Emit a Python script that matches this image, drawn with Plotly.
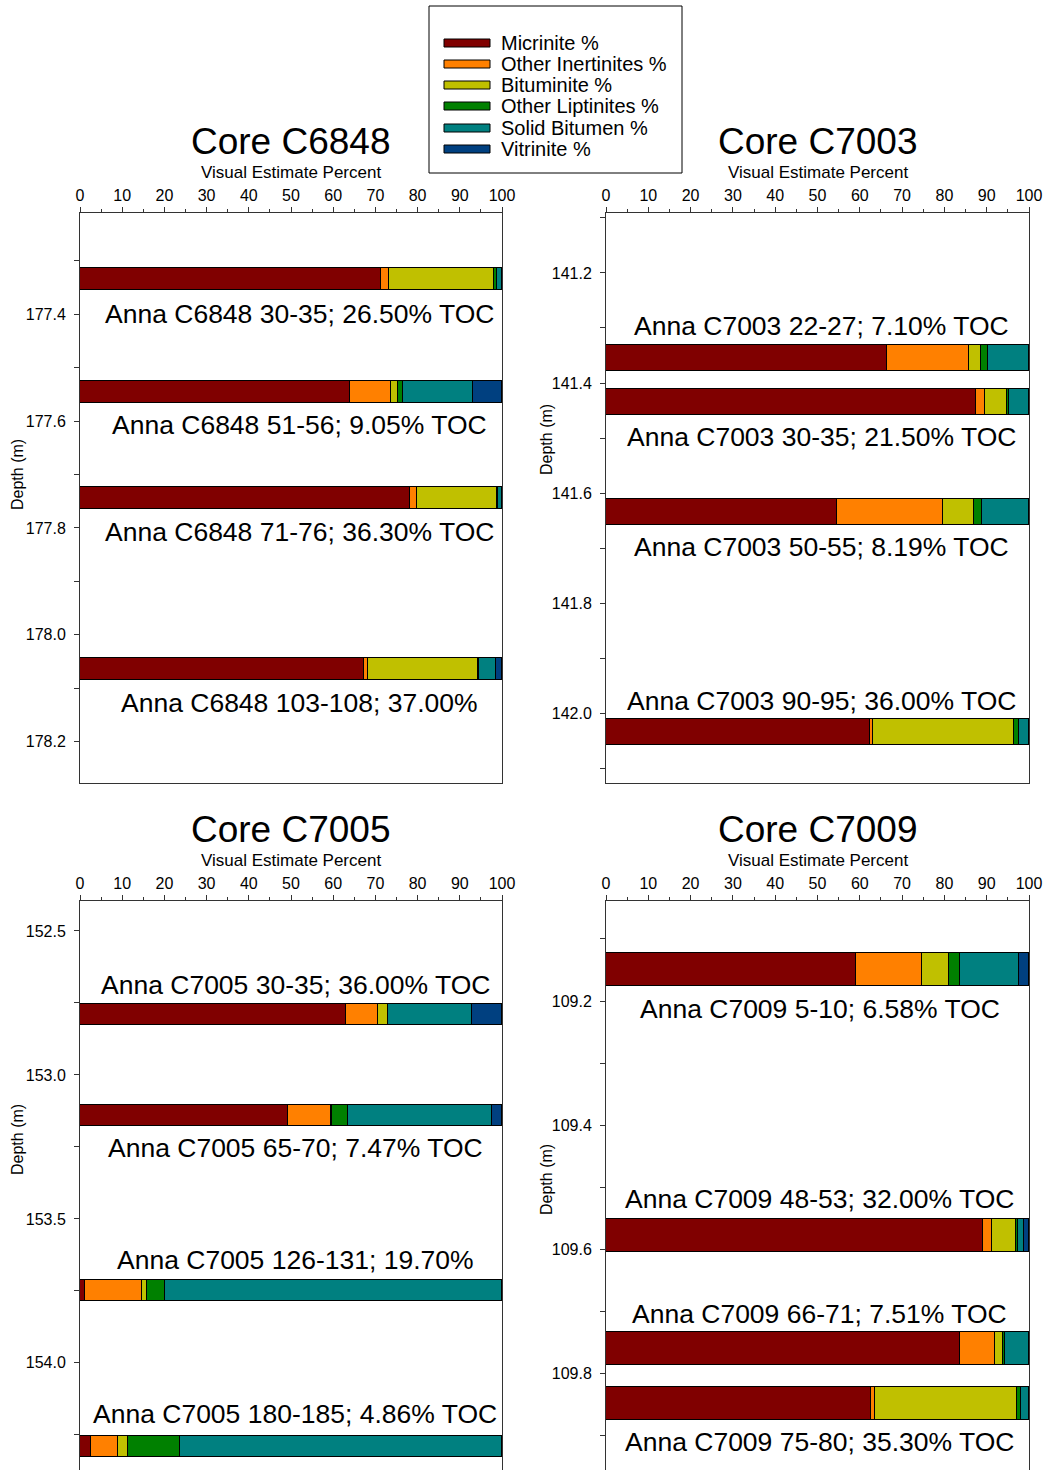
import plotly.graph_objects as go

W, H = 1047, 1470
FONT = "Liberation Sans, Arial, sans-serif"

# Maceral groups, in stacking order, with their fill colours
COMPONENTS = ["Micrinite %", "Other Inertinites %", "Bituminite %",
              "Other Liptinites %", "Solid Bitumen %", "Vitrinite %"]
COLORS = ["#800000", "#FF8000", "#C0C000", "#008000", "#008080", "#004080"]

# ---- Core C6848 ----
C6848_DEPTH = [177.335, 177.546, 177.744, 178.064]
C6848_SAMPLE = ["30-35", "51-56", "71-76", "103-108"]
C6848_TOC = ["26.50% TOC", "9.05% TOC", "36.30% TOC", "37.00%"]
C6848_MICRINITE = [71.4, 64.0, 78.3, 67.4]
C6848_OTHER_INERT = [1.8, 9.8, 1.5, 0.9]
C6848_BITUMINITE = [24.9, 1.6, 18.9, 25.9]
C6848_OTHER_LIPT = [0.7, 1.1, 0.4, 0.4]
C6848_SOLID_BIT = [1.2, 16.7, 0.9, 4.0]
C6848_VITRINITE = [0.0, 6.8, 0.0, 1.4]

# ---- Core C7003 ----
C7003_DEPTH = [141.355, 141.435, 141.634, 142.034]
C7003_SAMPLE = ["22-27", "30-35", "50-55", "90-95"]
C7003_TOC = ["7.10% TOC", "21.50% TOC", "8.19% TOC", "36.00% TOC"]
C7003_MICRINITE = [66.4, 87.4, 54.5, 62.3]
C7003_OTHER_INERT = [19.5, 2.1, 25.1, 0.8]
C7003_BITUMINITE = [2.8, 5.4, 7.3, 33.3]
C7003_OTHER_LIPT = [1.6, 0.4, 2.1, 1.2]
C7003_SOLID_BIT = [9.7, 4.7, 11.0, 2.4]
C7003_VITRINITE = [0.0, 0.0, 0.0, 0.0]

# ---- Core C7005 ----
C7005_DEPTH = [152.79, 153.141, 153.75, 154.292]
C7005_SAMPLE = ["30-35", "65-70", "126-131", "180-185"]
C7005_TOC = ["36.00% TOC", "7.47% TOC", "19.70%", "4.86% TOC"]
C7005_MICRINITE = [63.0, 49.2, 1.3, 2.6]
C7005_OTHER_INERT = [7.6, 10.2, 13.4, 6.4]
C7005_BITUMINITE = [2.5, 0.3, 1.2, 2.3]
C7005_OTHER_LIPT = [0.0, 3.8, 4.3, 12.4]
C7005_SOLID_BIT = [19.8, 34.1, 79.8, 76.3]
C7005_VITRINITE = [7.1, 2.4, 0.0, 0.0]

# ---- Core C7009 ----
C7009_DEPTH = [109.149, 109.578, 109.759, 109.848]
C7009_SAMPLE = ["5-10", "48-53", "66-71", "75-80"]
C7009_TOC = ["6.58% TOC", "32.00% TOC", "7.51% TOC", "35.30% TOC"]
C7009_MICRINITE = [59.0, 89.1, 83.7, 62.6]
C7009_OTHER_INERT = [15.8, 2.2, 8.3, 1.0]
C7009_BITUMINITE = [6.3, 5.6, 1.9, 33.6]
C7009_OTHER_LIPT = [2.6, 0.5, 0.4, 0.9]
C7009_SOLID_BIT = [14.0, 1.4, 5.7, 1.9]
C7009_VITRINITE = [2.3, 1.2, 0.0, 0.0]

X_TICKS = [0, 10, 20, 30, 40, 50, 60, 70, 80, 90, 100]


def px_x(x):
    return x / W


def px_y(y):
    return 1 - y / H


# panel layout: pixel box (left, top, right, bottom), depth range, tick step,
# bar thickness (m), label offsets in px (positive = below bar),
# depth-title position, label centre on the percent axis
cores = [
    dict(name="C6848", depth=C6848_DEPTH, sample=C6848_SAMPLE, toc=C6848_TOC,
         values=[C6848_MICRINITE, C6848_OTHER_INERT, C6848_BITUMINITE,
                 C6848_OTHER_LIPT, C6848_SOLID_BIT, C6848_VITRINITE],
         box=(80, 213, 502, 783), yrange=(178.277, 177.211), dtick=0.2,
         bw=0.041, shift=[35, 33, 34, 34], ytitle=(17, 475), lx=52),
    dict(name="C7003", depth=C7003_DEPTH, sample=C7003_SAMPLE, toc=C7003_TOC,
         values=[C7003_MICRINITE, C7003_OTHER_INERT, C7003_BITUMINITE,
                 C7003_OTHER_LIPT, C7003_SOLID_BIT, C7003_VITRINITE],
         box=(606, 213, 1029, 783), yrange=(142.127, 141.091), dtick=0.2,
         bw=0.047, shift=[-32, 35, 35, -31], ytitle=(546, 440), lx=51),
    dict(name="C7005", depth=C7005_DEPTH, sample=C7005_SAMPLE, toc=C7005_TOC,
         values=[C7005_MICRINITE, C7005_OTHER_INERT, C7005_BITUMINITE,
                 C7005_OTHER_LIPT, C7005_SOLID_BIT, C7005_VITRINITE],
         box=(80, 901, 502, 1470), yrange=(154.372, 152.396), dtick=0.5,
         bw=0.073, shift=[-29, 32, -31, -33], ytitle=(17, 1140), lx=51),
    dict(name="C7009", depth=C7009_DEPTH, sample=C7009_SAMPLE, toc=C7009_TOC,
         values=[C7009_MICRINITE, C7009_OTHER_INERT, C7009_BITUMINITE,
                 C7009_OTHER_LIPT, C7009_SOLID_BIT, C7009_VITRINITE],
         box=(606, 901, 1029, 1470), yrange=(109.955, 109.039), dtick=0.2,
         bw=0.053, shift=[40, -37, -34, 38], ytitle=(546, 1180), lx=50.5),
]

fig = go.Figure()
annotations = []
shapes = []
layout_axes = {}

for i, core in enumerate(cores):
    n = "" if i == 0 else str(i + 1)
    xa, ya = "x" + n, "y" + n
    left, top, right, bottom = core["box"]

    for comp, color, vals in zip(COMPONENTS, COLORS, core["values"]):
        fig.add_trace(go.Bar(
            x=vals, y=core["depth"], orientation="h", xaxis=xa, yaxis=ya,
            width=core["bw"], name=comp, showlegend=False,
            marker=dict(color=color, line=dict(color="black", width=1)),
        ))

    axis_common = dict(showline=True, mirror=True, linecolor="#333333",
                       linewidth=1, showgrid=False, zeroline=False,
                       automargin=False,
                       ticks="outside", ticklen=5, tickcolor="#333333",
                       tickfont=dict(family=FONT, size=16, color="black"))
    layout_axes["xaxis" + n] = dict(
        axis_common, domain=[px_x(left), px_x(right)], anchor=ya,
        side="top", range=[0, 100], tickvals=X_TICKS,
        minor=dict(ticks="outside", ticklen=3, dtick=5, tickcolor="#333333"),
    )
    layout_axes["yaxis" + n] = dict(
        axis_common, domain=[px_y(bottom), px_y(top)], anchor=xa,
        range=list(core["yrange"]), dtick=core["dtick"], tick0=0,
        tickformat=".1f", ticklabelstandoff=5,
        minor=dict(ticks="outside", ticklen=5, dtick=core["dtick"] / 2,
                   tick0=0, tickcolor="#333333"),
    )

    cx = (left + right) / 2
    annotations.append(dict(
        text="Core " + core["name"], x=px_x(cx), y=px_y(top - 71),
        xref="paper", yref="paper", showarrow=False, xanchor="center",
        yanchor="middle", font=dict(family=FONT, size=37, color="black")))
    annotations.append(dict(
        text="Visual Estimate Percent", x=px_x(cx), y=px_y(top - 41),
        xref="paper", yref="paper", showarrow=False, xanchor="center",
        yanchor="middle", font=dict(family=FONT, size=17, color="black")))
    tx, ty = core["ytitle"]
    annotations.append(dict(
        text="Depth (m)", x=px_x(tx), y=px_y(ty), xref="paper", yref="paper",
        showarrow=False, textangle=-90, xanchor="center", yanchor="middle",
        font=dict(family=FONT, size=16, color="black")))

    for d, s, t, sh in zip(core["depth"], core["sample"], core["toc"],
                           core["shift"]):
        annotations.append(dict(
            text=f"Anna {core['name']} {s}; {t}", x=core["lx"], y=d,
            xref=xa, yref=ya, showarrow=False, xanchor="center",
            yanchor="middle", yshift=-sh,
            font=dict(family=FONT, size=26.5, color="black")))

# legend box with wide colour swatches
shapes.append(dict(type="rect", xref="paper", yref="paper",
                   x0=px_x(429), x1=px_x(682), y0=px_y(173), y1=px_y(6),
                   line=dict(color="black", width=1), fillcolor="white"))
row_y = [43, 64, 85, 106, 128, 149]
for comp, color, ry in zip(COMPONENTS, COLORS, row_y):
    shapes.append(dict(type="rect", xref="paper", yref="paper",
                       x0=px_x(444), x1=px_x(490), y0=px_y(ry + 4),
                       y1=px_y(ry - 4), fillcolor=color,
                       line=dict(color="black", width=1)))
    annotations.append(dict(
        text=comp, x=px_x(499), y=px_y(ry), xref="paper", yref="paper",
        showarrow=False, xanchor="left", yanchor="middle",
        font=dict(family=FONT, size=20, color="black")))

fig.update_layout(
    width=W, height=H, margin=dict(l=0, r=0, t=0, b=0, autoexpand=False),
    paper_bgcolor="white", plot_bgcolor="white", barmode="stack",
    bargap=0, showlegend=False, annotations=annotations, shapes=shapes,
    font=dict(family=FONT, color="black"),
    **layout_axes,
)

fig.write_html("out.html")
